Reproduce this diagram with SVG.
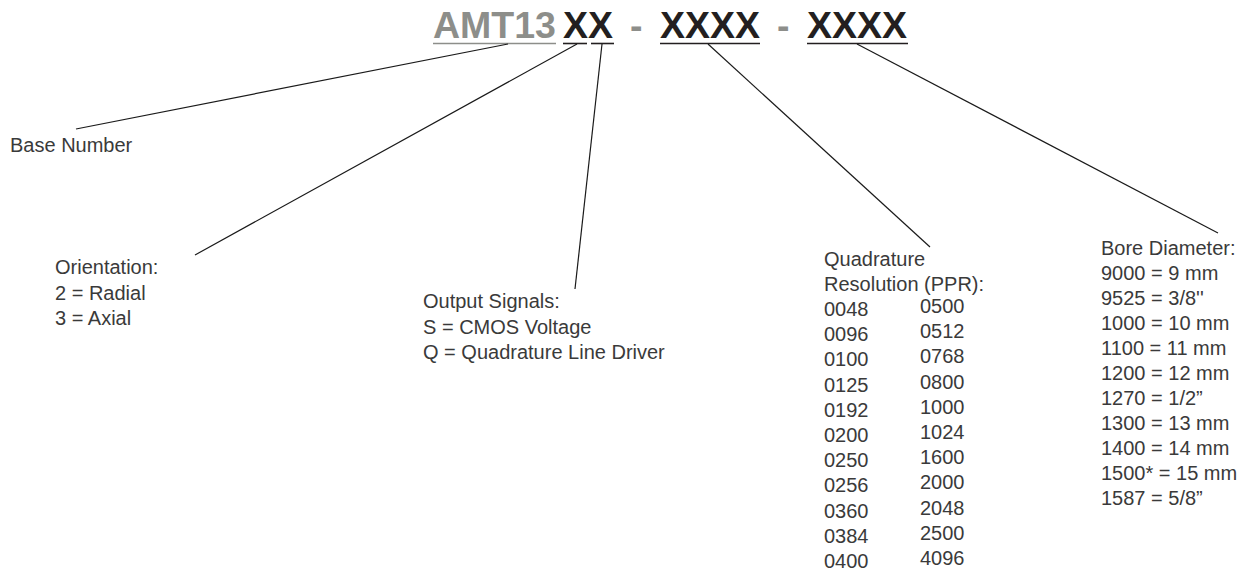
<svg xmlns="http://www.w3.org/2000/svg" width="1245" height="573" viewBox="0 0 1245 573">
<style>
.hd{font-family:"Liberation Sans",Arial,sans-serif;font-weight:bold;font-size:37.5px}
.g{fill:#8d8e8a}
.k{fill:#231f20}
.t{font-family:"Liberation Sans",Arial,sans-serif;font-size:20px;fill:#3a3a3a}
.ul{stroke-width:1.6;fill:none}
.c{stroke:#1a1a1a;stroke-width:1.2;fill:none}
</style>
<rect width="1245" height="573" fill="#ffffff"/>
<g id="header">
<text class="hd g" x="433" y="38">AMT13</text>
<text class="hd k" x="563" y="38">XX</text>
<text class="hd g" x="630" y="38">-</text>
<text class="hd k" x="660" y="38">XXXX</text>
<text class="hd g" x="777" y="38">-</text>
<text class="hd k" x="807" y="38">XXXX</text>
<line class="ul" stroke="#8d8e8a" x1="433" y1="43.5" x2="556" y2="43.5"/>
<line class="ul" stroke="#231f20" x1="563" y1="43.5" x2="587" y2="43.5"/>
<line class="ul" stroke="#231f20" x1="591" y1="43.5" x2="614" y2="43.5"/>
<line class="ul" stroke="#231f20" x1="660" y1="43.5" x2="760" y2="43.5"/>
<line class="ul" stroke="#231f20" x1="807" y1="43.5" x2="908" y2="43.5"/>
</g>
<g id="connectors">
<line class="c" x1="508" y1="44" x2="76" y2="129"/>
<line class="c" x1="577" y1="44" x2="195" y2="255"/>
<line class="c" x1="602" y1="44" x2="575" y2="289"/>
<line class="c" x1="708" y1="44" x2="930" y2="247"/>
<line class="c" x1="857" y1="44" x2="1218" y2="233"/>
</g>
<g id="base-number">
<text class="t" x="10" y="152">Base Number</text>
</g>
<g id="orientation">
<text class="t" x="55" y="274">Orientation:</text>
<text class="t" x="55" y="300">2 = Radial</text>
<text class="t" x="55" y="325">3 = Axial</text>
</g>
<g id="output-signals">
<text class="t" x="423" y="308">Output Signals:</text>
<text class="t" x="423" y="334">S = CMOS Voltage</text>
<text class="t" x="423" y="359">Q = Quadrature Line Driver</text>
</g>
<g id="resolution">
<text class="t" x="824" y="266">Quadrature</text>
<text class="t" x="824" y="291">Resolution (PPR):</text>
<text class="t" x="824" y="316">0048</text>
<text class="t" x="824" y="341.2">0096</text>
<text class="t" x="824" y="366.4">0100</text>
<text class="t" x="824" y="391.6">0125</text>
<text class="t" x="824" y="416.8">0192</text>
<text class="t" x="824" y="442">0200</text>
<text class="t" x="824" y="467.2">0250</text>
<text class="t" x="824" y="492.4">0256</text>
<text class="t" x="824" y="517.6">0360</text>
<text class="t" x="824" y="542.8">0384</text>
<text class="t" x="824" y="568">0400</text>
<text class="t" x="920" y="313">0500</text>
<text class="t" x="920" y="338.2">0512</text>
<text class="t" x="920" y="363.4">0768</text>
<text class="t" x="920" y="388.6">0800</text>
<text class="t" x="920" y="413.8">1000</text>
<text class="t" x="920" y="439">1024</text>
<text class="t" x="920" y="464.2">1600</text>
<text class="t" x="920" y="489.4">2000</text>
<text class="t" x="920" y="514.6">2048</text>
<text class="t" x="920" y="539.8">2500</text>
<text class="t" x="920" y="565">4096</text>
</g>
<g id="bore-diameter">
<text class="t" x="1101" y="255">Bore Diameter:</text>
<text class="t" x="1101" y="280">9000 = 9 mm</text>
<text class="t" x="1101" y="305">9525 = 3/8''</text>
<text class="t" x="1101" y="330">1000 = 10 mm</text>
<text class="t" x="1101" y="355">1100 = 11 mm</text>
<text class="t" x="1101" y="380">1200 = 12 mm</text>
<text class="t" x="1101" y="405">1270 = 1/2”</text>
<text class="t" x="1101" y="430">1300 = 13 mm</text>
<text class="t" x="1101" y="455">1400 = 14 mm</text>
<text class="t" x="1101" y="480">1500* = 15 mm</text>
<text class="t" x="1101" y="505">1587 = 5/8”</text>
</g>
</svg>
